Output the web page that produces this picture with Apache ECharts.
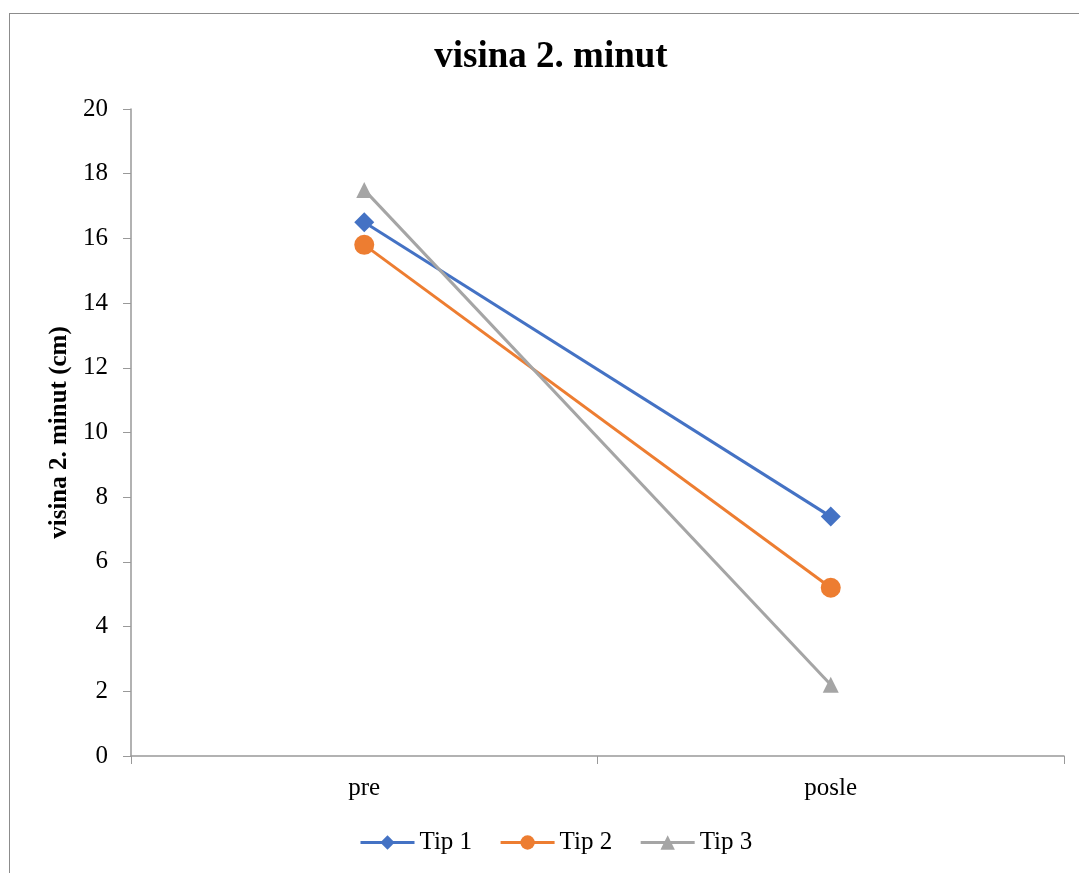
<!DOCTYPE html>
<html>
<head>
<meta charset="utf-8">
<script src="https://cdn.jsdelivr.net/npm/echarts@6/dist/echarts.min.js"></script>
<style>
  html, body { margin: 0; padding: 0; background: #fff; overflow: hidden; }
  #chart { width: 1079px; height: 873px; position: relative; }
  #frame { position: absolute; left: 9px; top: 13px; width: 1200px; height: 1000px; border: 1px solid #8c8c8c; pointer-events: none; }
</style>
</head>
<body>
<div id="chart"></div>
<div id="frame"></div>
<script>
const categories = ['pre', 'posle']
const tip1 = [16.5, 7.4]
const tip2 = [15.8, 5.2]
const tip3 = [17.5, 2.2]

const font = 'Liberation Serif'

const chart = echarts.init(document.getElementById('chart'))

chart.setOption({
  animation: false,
  title: {
    text: 'visina 2. minut',
    left: 546,
    top: 34,
    textAlign: 'center',
    textStyle: { fontFamily: font, fontSize: 37, fontWeight: 'bold', color: '#000' }
  },
  grid: { left: 131, right: 15, top: 109, bottom: 117 },
  legend: {
    bottom: 13,
    left: 354,
    itemWidth: 54,
    itemHeight: 18,
    itemGap: 27,
    lineStyle: { width: 3 },
    textStyle: { fontFamily: font, fontSize: 25, color: '#000' },
    data: ['Tip 1', 'Tip 2', 'Tip 3']
  },
  xAxis: {
    type: 'category',
    data: categories,
    boundaryGap: true,
    axisLine: { lineStyle: { color: '#999', width: 1.5 } },
    axisTick: { show: true, length: 8, lineStyle: { color: '#999' } },
    axisLabel: { fontFamily: font, fontSize: 25, color: '#000', margin: 20 }
  },
  yAxis: {
    type: 'value',
    min: 0,
    max: 20,
    interval: 2,
    name: 'visina 2. minut (cm)',
    nameLocation: 'middle',
    nameGap: 50,
    nameTextStyle: { fontFamily: font, fontSize: 25, fontWeight: 'bold', color: '#000' },
    axisLine: { show: true, lineStyle: { color: '#999', width: 1.5 } },
    axisTick: { show: true, length: 8, inside: false, lineStyle: { color: '#999' } },
    axisLabel: { fontFamily: font, fontSize: 25, color: '#000', margin: 23 },
    splitLine: { show: false }
  },
  series: [
    {
      name: 'Tip 1',
      type: 'line',
      data: tip1,
      symbol: 'diamond',
      symbolSize: 20,
      color: '#4472C4',
      lineStyle: { width: 3 }
    },
    {
      name: 'Tip 2',
      type: 'line',
      data: tip2,
      symbol: 'circle',
      symbolSize: 20,
      color: '#ED7D31',
      lineStyle: { width: 3 }
    },
    {
      name: 'Tip 3',
      type: 'line',
      data: tip3,
      symbol: 'triangle',
      symbolSize: 16,
      color: '#A5A5A5',
      lineStyle: { width: 3 }
    }
  ]
})
</script>
</body>
</html>
